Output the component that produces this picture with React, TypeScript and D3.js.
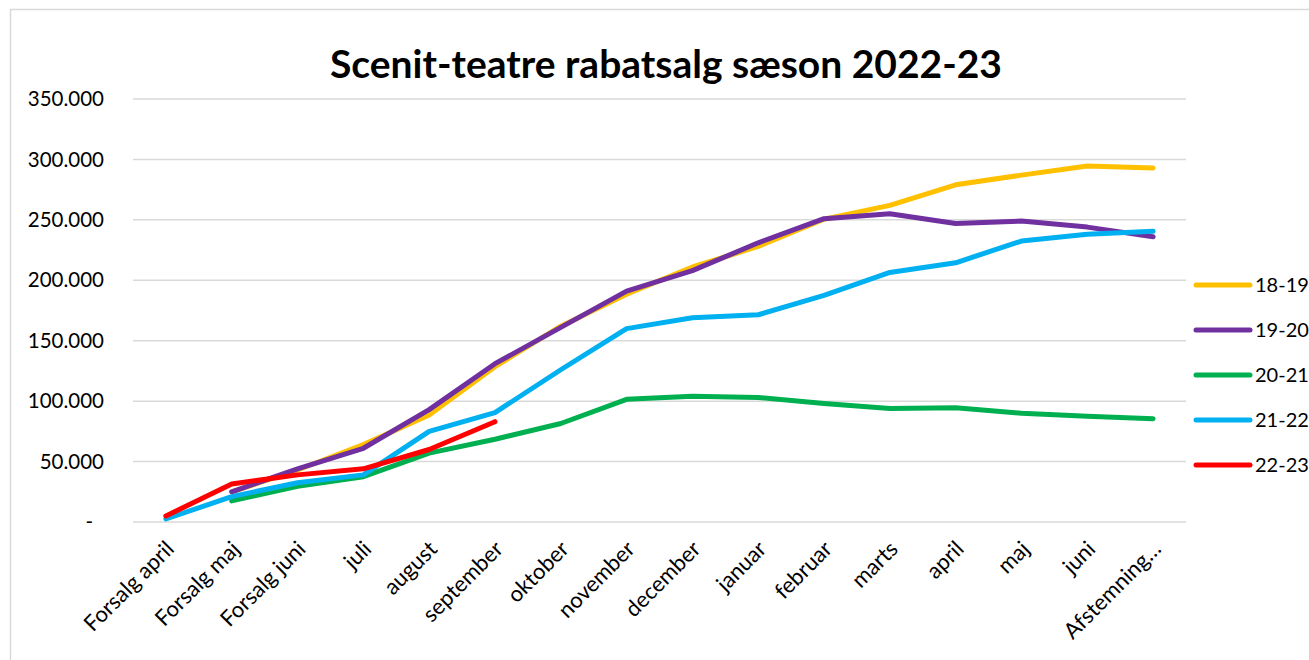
import React from "react";
import * as d3 from "d3";

const categories = [
  "Forsalg april", "Forsalg maj", "Forsalg juni", "juli", "august", "september",
  "oktober", "november", "december", "januar", "februar", "marts", "april", "maj", "juni", "Afstemning…",
];

const seriesNames = ["18-19", "19-20", "20-21", "21-22", "22-23"];
const seriesColors = ["#FFC000", "#7030A0", "#00B050", "#00B0F0", "#FF0000"];

const s1819 = [null, 25000, 43000, 64000, 88500, 128500, 162000, 188500, 211000, 228000, 250500, 262000, 279000, 287000, 294500, 293000];
const s1920 = [null, 25000, 44000, 61000, 93000, 131000, 161000, 191000, 208000, 231000, 251000, 255000, 247000, 249000, 244000, 236000];
const s2021 = [null, 17500, 29500, 37500, 57000, 68500, 81500, 101500, 104000, 103000, 98000, 94000, 94500, 90000, 87500, 85500];
const s2122 = [2500, 21000, 32500, 39000, 75000, 90500, 126000, 160000, 169000, 171500, 187500, 206500, 214500, 232500, 238000, 240500];
const s2223 = [5000, 31500, 39000, 44000, 60000, 83000, null, null, null, null, null, null, null, null, null, null];

const seriesValues = [s1819, s1920, s2021, s2122, s2223];

const yTicks = [0, 50000, 100000, 150000, 200000, 250000, 300000, 350000];

const W = 1309;
const H = 660;
const FONT = "Lato, 'Open Sans', sans-serif";

export default function App() {
  const x = d3.scaleBand<string>().domain(categories).range([133, 1186]);
  const y = d3.scaleLinear().domain([0, 350000]).range([522, 99]);
  const fmt = d3.formatLocale({ decimal: ",", thousands: ".", grouping: [3], currency: ["", ""] }).format(",");
  const cx = (c: string) => (x(c) as number) + x.bandwidth() / 2;

  const line = d3
    .line<number | null>()
    .defined((d) => d !== null)
    .x((_, i) => cx(categories[i]))
    .y((d) => y(d as number));

  return (
    <svg width={W} height={H} style={{ position: "absolute", left: 0, top: 0, background: "#fff" }} fontFamily={FONT}>
      <rect x={0} y={0} width={W} height={H} fill="#fff" />
      <rect x={10.5} y={9.5} width={W + 20} height={H + 20} fill="none" stroke="#d9d9d9" strokeWidth={1.5} />
      <text x={666} y={78} textAnchor="middle" fontSize={39} fontWeight={700} fill="#000">
        Scenit-teatre rabatsalg sæson 2022-23
      </text>
      {yTicks.map((t) => (
        <g key={t}>
          <line x1={133} x2={1186} y1={y(t)} y2={y(t)} stroke="#d9d9d9" strokeWidth={1.5} />
          <text x={t === 0 ? 93 : 104} y={y(t)} dy="0.35em" textAnchor="end" fontSize={20.5} fill="#000">
            {t === 0 ? "-" : fmt(t)}
          </text>
        </g>
      ))}
      {categories.map((c) => (
        <text
          key={c}
          transform={`translate(${cx(c) + 4},545) rotate(-45)`}
          textAnchor="end"
          dy="0.35em"
          fontSize={22}
          fill="#000"
        >
          {c}
        </text>
      ))}
      {seriesValues.map((vals, i) => (
        <path
          key={seriesNames[i]}
          d={line(vals) || ""}
          fill="none"
          stroke={seriesColors[i]}
          strokeWidth={5}
          strokeLinejoin="round"
          strokeLinecap="round"
        />
      ))}
      {seriesNames.map((n, i) => {
        const ly = 285 + i * 45;
        return (
          <g key={n}>
            <line x1={1196} x2={1250} y1={ly} y2={ly} stroke={seriesColors[i]} strokeWidth={5} strokeLinecap="round" />
            <text x={1255} y={ly} dy="0.35em" fontSize={20} fill="#000">
              {n}
            </text>
          </g>
        );
      })}
    </svg>
  );
}
